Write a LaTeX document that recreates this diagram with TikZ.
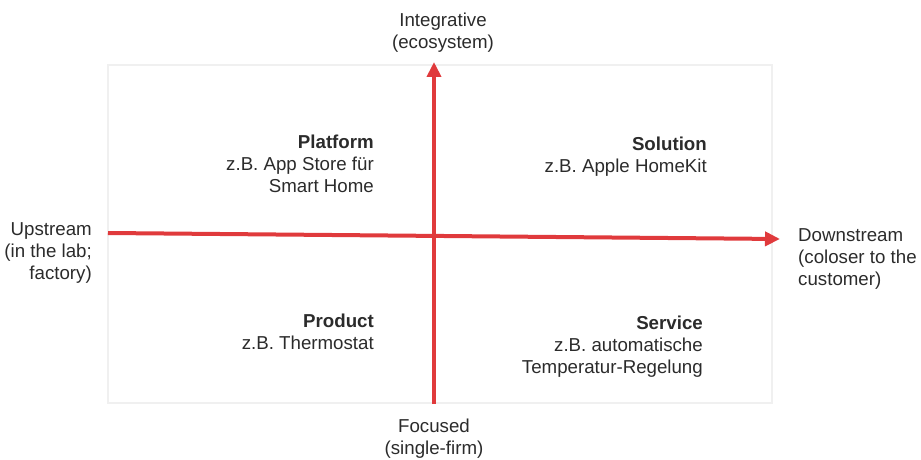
\documentclass[tikz,border=0pt]{standalone}
\usepackage{fontspec}
\setmainfont{Liberation Sans}
\usetikzlibrary{arrows.meta}
\definecolor{axisred}{HTML}{E03A3C}
\definecolor{txt}{HTML}{2B2B2B}
\definecolor{frame}{HTML}{F0F0F0}
\begin{document}
\begin{tikzpicture}[x=1pt,y=-1pt,
  lbl/.style={font=\fontsize{18.7}{22}\selectfont, text=txt, inner sep=0pt},
  axis/.style={draw=axisred, line width=4pt, -{Triangle[length=15pt,width=14pt]}},
  frame/.style={draw=frame, line width=1.2pt}]
\useasboundingbox (0,0) rectangle (921,460);
\draw[frame] (108,65) rectangle (772,403);
\coordinate (hs) at (108,233);
\coordinate (he) at (780,239);
\coordinate (vs) at (434,404);
\coordinate (ve) at (434,62);
\draw[axis] (hs) -- (he);
\draw[axis] (vs) -- (ve);
\node[lbl, align=center] (top) at (443,33) {Integrative\\(ecosystem)};
\node[lbl, align=center] (bot) at (434,439) {Focused\\(single-firm)};
\node[lbl, align=right, anchor=east] (left) at (92,253) {Upstream\\(in the lab;\\factory)};
\node[lbl, align=left, anchor=west] (right) at (798,259) {Downstream\\(coloser to the\\customer)};
\node[lbl, align=right, anchor=east] (platform) at (374,164) {\textbf{Platform}\\z.B. App Store für\\Smart Home};
\node[lbl, align=right, anchor=east] (solution) at (707,157) {\textbf{Solution}\\z.B. Apple HomeKit};
\node[lbl, align=right, anchor=east] (product) at (374,332) {\textbf{Product}\\z.B. Thermostat};
\node[lbl, align=right, anchor=east] (service) at (703,347) {\textbf{Service}\\z.B. automatische\\Temperatur-Regelung};
\end{tikzpicture}
\end{document}
